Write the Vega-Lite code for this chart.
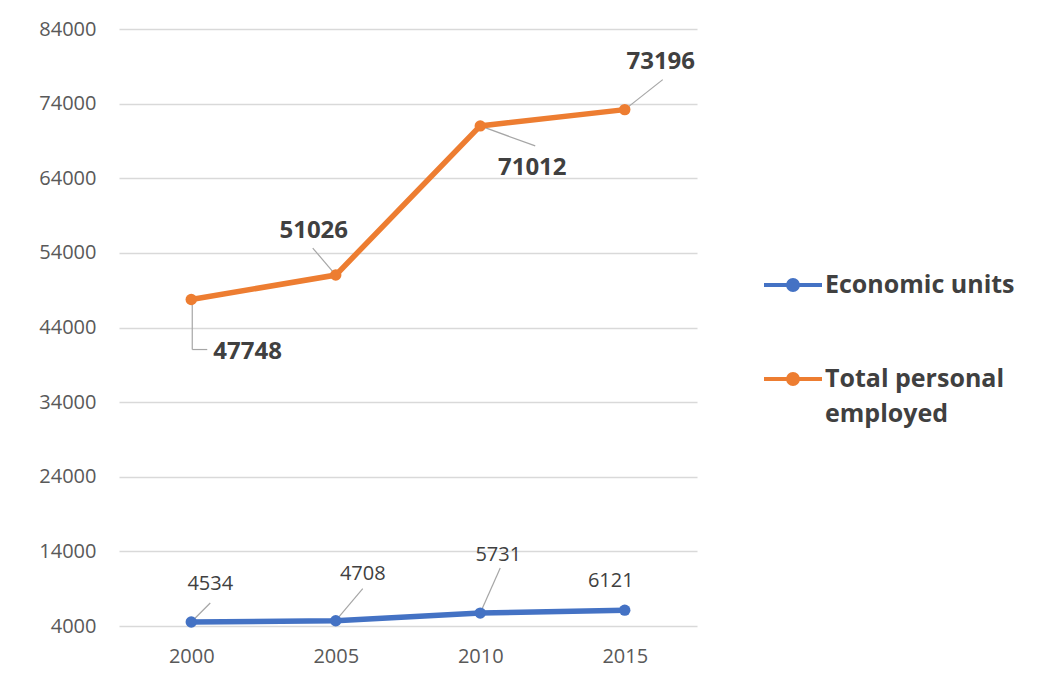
{
  "$schema": "https://vega.github.io/schema/vega-lite/v6.json",
  "autosize": {"type": "none"},
  "width": 578,
  "height": 597,
  "padding": {"left": 119, "top": 29, "right": 345, "bottom": 66},
  "background": "white",
  "config": {
    "view": {"stroke": null},
    "font": "Open Sans"
  },
  "data": {
    "values": [
      {"year": "2000", "series": "Economic units", "value": 4534},
      {"year": "2005", "series": "Economic units", "value": 4708},
      {"year": "2010", "series": "Economic units", "value": 5731},
      {"year": "2015", "series": "Economic units", "value": 6121},
      {"year": "2000", "series": "Total personal employed", "value": 47748},
      {"year": "2005", "series": "Total personal employed", "value": 51026},
      {"year": "2010", "series": "Total personal employed", "value": 71012},
      {"year": "2015", "series": "Total personal employed", "value": 73196}
    ]
  },
  "encoding": {
    "x": {
      "field": "year", "type": "ordinal",
      "scale": {"type": "point", "padding": 0.5},
      "axis": {"title": null, "labelAngle": 0, "labelPadding": 20, "ticks": false, "domain": false, "grid": false,
               "labelFont": "Open Sans", "labelFontSize": 20, "labelColor": "#595959"}
    },
    "y": {
      "field": "value", "type": "quantitative",
      "scale": {"domain": [4000, 84000], "nice": false, "zero": false},
      "axis": {"title": null, "values": [4000, 14000, 24000, 34000, 44000, 54000, 64000, 74000, 84000], "format": "d",
               "labelPadding": 23, "ticks": false, "domain": false, "gridColor": "#d9d9d9", "gridWidth": 1.5,
               "labelFont": "Open Sans", "labelFontSize": 20, "labelColor": "#595959"}
    }
  },
  "layer": [
    {"transform": [{"filter": "datum.series == 'Total personal employed' && datum.year == '2000'"}],
     "mark": {"type": "rule", "color": "#a6a6a6", "strokeWidth": 1.2, "xOffset": 1, "yOffset": 5, "x2Offset": 1, "y2Offset": 50},
     "encoding": {"x2": {"field": "year"}, "y2": {"field": "value"}}},
    {"transform": [{"filter": "datum.series == 'Total personal employed' && datum.year == '2000'"}],
     "mark": {"type": "rule", "color": "#a6a6a6", "strokeWidth": 1.2, "xOffset": 1, "yOffset": 50, "x2Offset": 16, "y2Offset": 50},
     "encoding": {"x2": {"field": "year"}, "y2": {"field": "value"}}},
    {"transform": [{"filter": "datum.series == 'Total personal employed' && datum.year == '2005'"}],
     "mark": {"type": "rule", "color": "#a6a6a6", "strokeWidth": 1.2, "xOffset": 0, "yOffset": 0, "x2Offset": -23, "y2Offset": -27},
     "encoding": {"x2": {"field": "year"}, "y2": {"field": "value"}}},
    {"transform": [{"filter": "datum.series == 'Total personal employed' && datum.year == '2010'"}],
     "mark": {"type": "rule", "color": "#a6a6a6", "strokeWidth": 1.2, "xOffset": 0, "yOffset": 0, "x2Offset": 55, "y2Offset": 20},
     "encoding": {"x2": {"field": "year"}, "y2": {"field": "value"}}},
    {"transform": [{"filter": "datum.series == 'Total personal employed' && datum.year == '2015'"}],
     "mark": {"type": "rule", "color": "#a6a6a6", "strokeWidth": 1.2, "xOffset": 0, "yOffset": 0, "x2Offset": 38, "y2Offset": -30},
     "encoding": {"x2": {"field": "year"}, "y2": {"field": "value"}}},
    {"transform": [{"filter": "datum.series == 'Economic units' && datum.year == '2000'"}],
     "mark": {"type": "rule", "color": "#a6a6a6", "strokeWidth": 1.2, "xOffset": 0, "yOffset": 0, "x2Offset": 19, "y2Offset": -19},
     "encoding": {"x2": {"field": "year"}, "y2": {"field": "value"}}},
    {"transform": [{"filter": "datum.series == 'Economic units' && datum.year == '2005'"}],
     "mark": {"type": "rule", "color": "#a6a6a6", "strokeWidth": 1.2, "xOffset": 0, "yOffset": 0, "x2Offset": 27, "y2Offset": -32},
     "encoding": {"x2": {"field": "year"}, "y2": {"field": "value"}}},
    {"transform": [{"filter": "datum.series == 'Economic units' && datum.year == '2010'"}],
     "mark": {"type": "rule", "color": "#a6a6a6", "strokeWidth": 1.2, "xOffset": 0, "yOffset": 0, "x2Offset": 20, "y2Offset": -45},
     "encoding": {"x2": {"field": "year"}, "y2": {"field": "value"}}},
    {
      "mark": {"type": "line", "strokeWidth": 5.5, "point": {"filled": true, "size": 130}},
      "encoding": {
        "color": {
          "field": "series", "type": "nominal",
          "scale": {"domain": ["Economic units", "Total personal employed"], "range": ["#4472C4", "#ED7D31"]},
          "legend": {
            "title": null, "orient": "none", "legendX": 643, "legendY": 225,
            "symbolType": "M-1,0H1M-0.17,0A0.17,0.17,0,1,1,0.17,0A0.17,0.17,0,1,1,-0.17,0Z",
            "symbolSize": 3364, "symbolStrokeWidth": 4,
            "labelFont": "Open Sans", "labelFontSize": 25, "labelFontWeight": "bold", "labelColor": "#404040",
            "labelOffset": 1, "rowPadding": 50, "labelLimit": 400,
            "labelExpr": "datum.label == 'Total personal employed' ? ['Total personal', 'employed'] : datum.label",
            "encode": {
              "symbols": {"update": {"fill": {"scale": "color", "field": "value"}}},
              "labels": {"update": {"lineHeight": {"value": 35}}}
            }
          }
        }
      }
    },
    {"transform": [{"filter": "datum.series == 'Total personal employed' && datum.year == '2000'"}],
     "mark": {"type": "text", "align": "left", "baseline": "middle", "dx": 22, "dy": 52, "fontSize": 24, "fontWeight": "bold", "color": "#404040"},
     "encoding": {"text": {"field": "value", "type": "quantitative", "format": "d"}}},
    {"transform": [{"filter": "datum.series == 'Total personal employed' && datum.year == '2005'"}],
     "mark": {"type": "text", "align": "center", "baseline": "middle", "dx": -22, "dy": -44, "fontSize": 24, "fontWeight": "bold", "color": "#404040"},
     "encoding": {"text": {"field": "value", "type": "quantitative", "format": "d"}}},
    {"transform": [{"filter": "datum.series == 'Total personal employed' && datum.year == '2010'"}],
     "mark": {"type": "text", "align": "center", "baseline": "middle", "dx": 52, "dy": 42, "fontSize": 24, "fontWeight": "bold", "color": "#404040"},
     "encoding": {"text": {"field": "value", "type": "quantitative", "format": "d"}}},
    {"transform": [{"filter": "datum.series == 'Total personal employed' && datum.year == '2015'"}],
     "mark": {"type": "text", "align": "center", "baseline": "middle", "dx": 36, "dy": -48, "fontSize": 24, "fontWeight": "bold", "color": "#404040"},
     "encoding": {"text": {"field": "value", "type": "quantitative", "format": "d"}}},
    {"transform": [{"filter": "datum.series == 'Economic units' && datum.year == '2000'"}],
     "mark": {"type": "text", "align": "center", "baseline": "middle", "dx": 19, "dy": -38, "fontSize": 20, "color": "#404040"},
     "encoding": {"text": {"field": "value", "type": "quantitative", "format": "d"}}},
    {"transform": [{"filter": "datum.series == 'Economic units' && datum.year == '2005'"}],
     "mark": {"type": "text", "align": "center", "baseline": "middle", "dx": 27, "dy": -47, "fontSize": 20, "color": "#404040"},
     "encoding": {"text": {"field": "value", "type": "quantitative", "format": "d"}}},
    {"transform": [{"filter": "datum.series == 'Economic units' && datum.year == '2010'"}],
     "mark": {"type": "text", "align": "center", "baseline": "middle", "dx": 18, "dy": -58, "fontSize": 20, "color": "#404040"},
     "encoding": {"text": {"field": "value", "type": "quantitative", "format": "d"}}},
    {"transform": [{"filter": "datum.series == 'Economic units' && datum.year == '2015'"}],
     "mark": {"type": "text", "align": "center", "baseline": "middle", "dx": -14, "dy": -29, "fontSize": 20, "color": "#404040"},
     "encoding": {"text": {"field": "value", "type": "quantitative", "format": "d"}}}
  ]
}
